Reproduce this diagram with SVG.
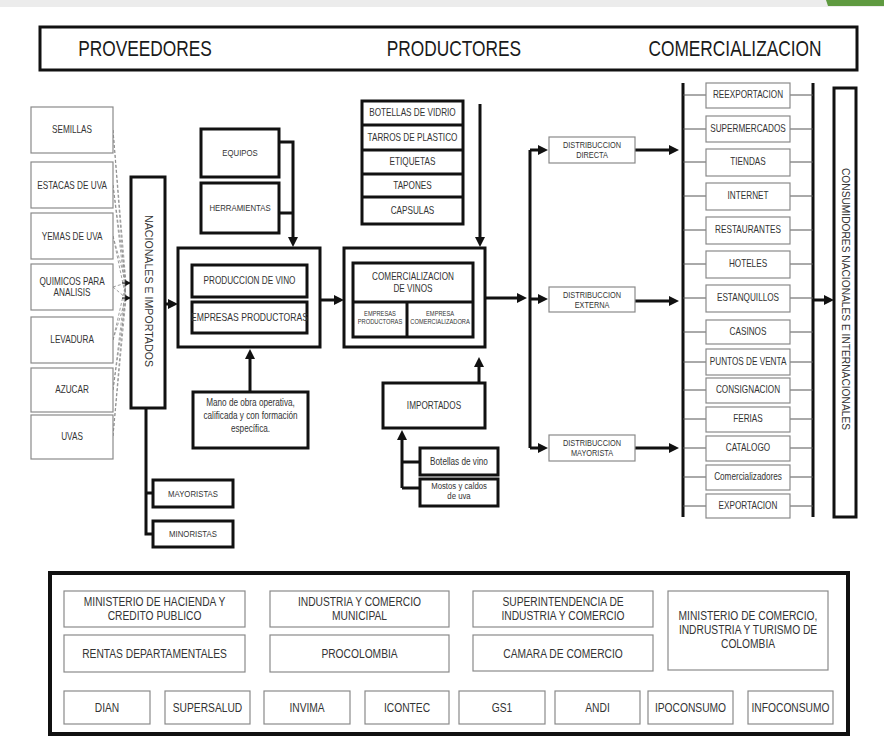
<svg xmlns="http://www.w3.org/2000/svg" width="884" height="740" viewBox="0 0 884 740">
  <defs>
    <style>
      .t, .tr { font-family: "Liberation Sans Narrow", "Liberation Sans", Arial, sans-serif; fill: #333; text-anchor: middle; }
      /* narrow the glyphs about each label's own centre */
      .t { transform: scaleX(0.82); transform-box: fill-box; transform-origin: center; }
      .h { font-size: 22.5px; fill: #1a1a1a; transform: scaleX(0.77); }
      .s10 { font-size: 10px; }
      .s9 { font-size: 9.5px; }
      .s8 { font-size: 9px; }
      .s6 { font-size: 7px; }
      .s12 { font-size: 12.5px; }
      .thick { fill: #fff; stroke: #111; stroke-width: 3; }
      .thin { fill: #fff; stroke: #8a8a8a; stroke-width: 1.2; }
      .wire { fill: none; stroke: #111; stroke-width: 3; }
      .fine { fill: none; stroke: #555; stroke-width: 1; }
      .dash { fill: none; stroke: #888; stroke-width: 0.8; stroke-dasharray: 3 2; }
    </style>
    <marker id="ah" viewBox="0 0 10 10" refX="3" refY="5" markerWidth="10" markerHeight="11" markerUnits="userSpaceOnUse" orient="auto">
      <path d="M0,0 L10,5 L0,10 z" fill="#111"/>
    </marker>
    <marker id="ahs" viewBox="0 0 10 10" refX="8" refY="5" markerWidth="6" markerHeight="6" markerUnits="userSpaceOnUse" orient="auto">
      <path d="M0,0 L10,5 L0,10 z" fill="#111"/>
    </marker>
  </defs>

  <!-- page backdrop -->
  <rect x="0" y="0" width="884" height="740" fill="#fff"/>
  <rect x="0" y="0" width="884" height="7" fill="#ececec"/>
  <path d="M826,0 L884,0 L884,6 L828,6 Z" fill="#5f9a40"/>

  <!-- header band -->
  <g id="header">
    <rect class="thick" x="40" y="27" width="817" height="43"/>
    <text class="t h" x="145" y="56.5">PROVEEDORES</text>
    <text class="t h" x="454" y="56.5">PRODUCTORES</text>
    <text class="t h" x="735" y="56.5">COMERCIALIZACION</text>
  </g>

  <!-- connectors -->
  <g id="connectors">
    <!-- suppliers fan into the national/imported column -->
    <path class="dash" d="M113,130 L126,283 M113,130 L126,298"/>
    <path class="dash" d="M113,185 L126,283 M113,185 L126,298"/>
    <path class="dash" d="M113,236 L126,283 M113,236 L126,298"/>
    <path class="dash" d="M113,287 L126,283 M113,287 L126,298"/>
    <path class="dash" d="M113,340 L126,283 M113,340 L126,298"/>
    <path class="dash" d="M113,390 L126,283 M113,390 L126,298"/>
    <path class="dash" d="M113,436 L126,283 M113,436 L126,298"/>
    <path d="M122,283 L130,283" fill="none" stroke="#111" stroke-width="1" marker-end="url(#ahs)"/>
    <path d="M122,298 L130,298" fill="none" stroke="#111" stroke-width="1" marker-end="url(#ahs)"/>

    <!-- national column -> production -->
    <path class="wire" d="M165,304 L171,304" marker-end="url(#ah)"/>
    <!-- national column -> wholesalers / retailers -->
    <path class="wire" d="M146,408 L146,534 L153,534 M146,493 L153,493"/>

    <!-- equipment & tools -> production -->
    <path class="wire" d="M279,142 L293,142 L293,240" marker-end="url(#ah)"/>
    <path class="wire" d="M279,213 L293,213"/>
    <!-- labour -> production -->
    <path class="wire" d="M250,392 L250,356" marker-end="url(#ah)"/>
    <!-- production -> commercialisation -->
    <path class="wire" d="M320,300 L337,300" marker-end="url(#ah)"/>
    <!-- packaging supplies -> commercialisation -->
    <path class="wire" d="M480,104 L480,240" marker-end="url(#ah)"/>
    <!-- imports -> commercialisation -->
    <path class="wire" d="M479,383 L479,364" marker-end="url(#ah)"/>
    <path class="wire" d="M402,488 L402,437" marker-end="url(#ah)"/>
    <path class="wire" d="M402,488 L420,488 M402,462 L420,462"/>

    <!-- commercialisation -> distribution bus -->
    <path class="wire" d="M485,298 L520,298" marker-end="url(#ah)"/>
    <path class="wire" d="M530,150 L530,448"/>
    <path class="wire" d="M530,150 L541,150" marker-end="url(#ah)"/>
    <path class="wire" d="M530,299 L541,299" marker-end="url(#ah)"/>
    <path class="wire" d="M530,448 L541,448" marker-end="url(#ah)"/>
    <!-- distribution -> channels -->
    <path class="wire" d="M635,150 L672,150" marker-end="url(#ah)"/>
    <path class="wire" d="M635,301 L672,301" marker-end="url(#ah)"/>
    <path class="wire" d="M635,448 L672,448" marker-end="url(#ah)"/>

    <!-- channel rails -->
    <path class="wire" d="M683,83 L683,517"/>
    <path class="wire" d="M813,83 L813,517"/>
    <path class="fine" d="M683,95 L706,95 M790,95 L813,95
      M683,129 L706,129 M790,129 L813,129
      M683,162 L706,162 M790,162 L813,162
      M683,196 L706,196 M790,196 L813,196
      M683,230 L706,230 M790,230 L813,230
      M683,264 L706,264 M790,264 L813,264
      M683,298 L706,298 M790,298 L813,298
      M683,332 L706,332 M790,332 L813,332
      M683,362 L706,362 M790,362 L813,362
      M683,390 L706,390 M790,390 L813,390
      M683,419 L706,419 M790,419 L813,419
      M683,448 L706,448 M790,448 L813,448
      M683,477 L706,477 M790,477 L813,477
      M683,506 L706,506 M790,506 L813,506"/>
    <!-- channels -> consumers -->
    <path class="wire" d="M813,300 L827,300" marker-end="url(#ah)"/>
  </g>

  <!-- suppliers -->
  <g id="semillas"><rect class="thin" x="31" y="107" width="82" height="46"/><text class="t s10" x="72" y="133.5">SEMILLAS</text></g>
  <g id="estacas"><rect class="thin" x="31" y="162" width="82" height="46"/><text class="t s10" x="72" y="189">ESTACAS DE UVA</text></g>
  <g id="yemas"><rect class="thin" x="31" y="213" width="82" height="46"/><text class="t s10" x="72" y="240">YEMAS DE UVA</text></g>
  <g id="quimicos"><rect class="thin" x="31" y="264" width="82" height="46"/><text class="t s10" x="72" y="285">QUIMICOS PARA</text><text class="t s10" x="72" y="296">ANALISIS</text></g>
  <g id="levadura"><rect class="thin" x="31" y="317" width="82" height="46"/><text class="t s10" x="72" y="343.5">LEVADURA</text></g>
  <g id="azucar"><rect class="thin" x="31" y="368" width="82" height="44"/><text class="t s10" x="72" y="393.5">AZUCAR</text></g>
  <g id="uvas"><rect class="thin" x="31" y="415" width="82" height="44"/><text class="t s10" x="72" y="440.5">UVAS</text></g>

  <g id="nacionales">
    <rect class="thick" x="131" y="177" width="34" height="231"/>
    <text class="tr s10" transform="translate(145,291) rotate(90)" textLength="152" lengthAdjust="spacingAndGlyphs">NACIONALES  E  IMPORTADOS</text>
  </g>
  <g id="mayoristas"><rect class="thick" x="153" y="480" width="80" height="27"/><text class="t s9" x="193" y="497">MAYORISTAS</text></g>
  <g id="minoristas"><rect class="thick" x="153" y="521" width="80" height="26"/><text class="t s9" x="193" y="537.5">MINORISTAS</text></g>

  <!-- production -->
  <g id="equipos"><rect class="thick" x="201" y="129" width="78" height="48"/><text class="t s9" x="240" y="156">EQUIPOS</text></g>
  <g id="herramientas"><rect class="thick" x="201" y="183" width="78" height="50"/><text class="t s9" x="240" y="211">HERRAMIENTAS</text></g>
  <g id="produccion">
    <rect class="thick" x="178" y="248" width="142" height="99"/>
    <rect class="thick" x="192" y="265" width="115" height="32"/>
    <text class="t s10" x="249.5" y="284.5">PRODUCCION DE VINO</text>
    <rect class="thick" x="192" y="302" width="115" height="31"/>
    <text class="t" style="font-size:10.5px" x="249.5" y="321.5">EMPRESAS PRODUCTORAS</text>
  </g>
  <g id="mano-de-obra">
    <rect class="thick" x="193" y="392" width="115" height="56"/>
    <text class="t s10" x="250.5" y="406">Mano de obra operativa,</text>
    <text class="t s10" x="250.5" y="419">calificada y con formación</text>
    <text class="t s10" x="250.5" y="432">específica.</text>
  </g>

  <!-- packaging supplies -->
  <g id="empaques">
    <rect class="thick" x="362" y="101" width="101" height="123"/>
    <path class="wire" d="M362,125 L463,125 M362,150 L463,150 M362,174 L463,174 M362,197 L463,197"/>
    <text class="t s10" x="412.5" y="116.5">BOTELLAS DE VIDRIO</text>
    <text class="t s10" x="412.5" y="141">TARROS DE PLASTICO</text>
    <text class="t s10" x="412.5" y="165.5">ETIQUETAS</text>
    <text class="t s10" x="412.5" y="189">TAPONES</text>
    <text class="t s10" x="412.5" y="214">CAPSULAS</text>
  </g>

  <g id="comercializacion">
    <rect class="thick" x="344" y="248" width="141" height="99"/>
    <rect class="thick" x="353" y="263" width="120" height="74"/>
    <path class="wire" d="M353,302 L473,302 M407,302 L407,337"/>
    <text class="t s10" x="413" y="280">COMERCIALIZACION</text>
    <text class="t s10" x="413" y="292">DE VINOS</text>
    <text class="t s6" x="380" y="316">EMPRESAS</text>
    <text class="t s6" x="380" y="324">PRODUCTORAS</text>
    <text class="t s6" x="440" y="316">EMPRESA</text>
    <text class="t s6" x="440" y="324">COMERCIALIZADORA</text>
  </g>

  <g id="importados"><rect class="thick" x="383" y="383" width="102" height="45"/><text class="t s10" x="434" y="409">IMPORTADOS</text></g>
  <g id="botellas-vino"><rect class="thick" x="420" y="448" width="78" height="27"/><text class="t s10" x="459" y="465">Botellas de vino</text></g>
  <g id="mostos"><rect class="thick" x="420" y="479" width="78" height="27"/><text class="t s9" x="459" y="489">Mostos y caldos</text><text class="t s9" x="459" y="499">de uva</text></g>

  <!-- distribution -->
  <g id="dist-directa"><rect class="thin" x="549" y="137" width="86" height="26"/><text class="t s8" x="592" y="148">DISTRIBUCCION</text><text class="t s8" x="592" y="158">DIRECTA</text></g>
  <g id="dist-externa"><rect class="thin" x="549" y="287" width="86" height="25"/><text class="t s8" x="592" y="298">DISTRIBUCCION</text><text class="t s8" x="592" y="308">EXTERNA</text></g>
  <g id="dist-mayorista"><rect class="thin" x="549" y="435" width="86" height="26"/><text class="t s8" x="592" y="446">DISTRIBUCCION</text><text class="t s8" x="592" y="456">MAYORISTA</text></g>

  <!-- sales channels -->
  <g id="reexportacion"><rect class="thin" x="706" y="83" width="84" height="25"/><text class="t s10" x="748" y="98.5">REEXPORTACION</text></g>
  <g id="supermercados"><rect class="thin" x="706" y="116" width="84" height="26"/><text class="t s10" x="748" y="132.5">SUPERMERCADOS</text></g>
  <g id="tiendas"><rect class="thin" x="706" y="149" width="84" height="27"/><text class="t s10" x="748" y="165.5">TIENDAS</text></g>
  <g id="internet"><rect class="thin" x="706" y="183" width="84" height="27"/><text class="t s10" x="748" y="199.5">INTERNET</text></g>
  <g id="restaurantes"><rect class="thin" x="706" y="217" width="84" height="27"/><text class="t s10" x="748" y="233.5">RESTAURANTES</text></g>
  <g id="hoteles"><rect class="thin" x="706" y="251" width="84" height="27"/><text class="t s10" x="748" y="267.5">HOTELES</text></g>
  <g id="estanquillos"><rect class="thin" x="706" y="285" width="84" height="27"/><text class="t s10" x="748" y="301.5">ESTANQUILLOS</text></g>
  <g id="casinos"><rect class="thin" x="706" y="320" width="84" height="24"/><text class="t s10" x="748" y="335.5">CASINOS</text></g>
  <g id="puntos-venta"><rect class="thin" x="706" y="349" width="84" height="26"/><text class="t s10" x="748" y="365.5">PUNTOS DE VENTA</text></g>
  <g id="consignacion"><rect class="thin" x="706" y="378" width="84" height="25"/><text class="t s10" x="748" y="393.5">CONSIGNACION</text></g>
  <g id="ferias"><rect class="thin" x="706" y="407" width="84" height="25"/><text class="t s10" x="748" y="422.5">FERIAS</text></g>
  <g id="catalogo"><rect class="thin" x="706" y="436" width="84" height="25"/><text class="t s10" x="748" y="451.5">CATALOGO</text></g>
  <g id="comercializadores"><rect class="thin" x="706" y="465" width="84" height="25"/><text class="t s10" x="748" y="480.5">Comercializadores</text></g>
  <g id="exportacion"><rect class="thin" x="706" y="494" width="84" height="24"/><text class="t s10" x="748" y="509.5">EXPORTACION</text></g>

  <g id="consumidores">
    <rect class="thick" x="834" y="88" width="22" height="429"/>
    <text class="tr s10" transform="translate(842,299) rotate(90)" textLength="262" lengthAdjust="spacingAndGlyphs">CONSUMIDORES NACIONALES E INTERNACIONALES</text>
  </g>

  <!-- regulatory bodies -->
  <g id="entidades">
    <rect x="50" y="573" width="798" height="161" fill="#fff" stroke="#111" stroke-width="4"/>
  </g>
  <g id="minhacienda"><rect class="thin" x="64" y="591" width="181" height="36"/><text class="t s12" x="154.5" y="606">MINISTERIO DE HACIENDA Y</text><text class="t s12" x="154.5" y="620">CREDITO PUBLICO</text></g>
  <g id="industria-municipal"><rect class="thin" x="270" y="591" width="179" height="36"/><text class="t s12" x="359.5" y="606">INDUSTRIA Y COMERCIO</text><text class="t s12" x="359.5" y="620">MUNICIPAL</text></g>
  <g id="superintendencia"><rect class="thin" x="473" y="591" width="180" height="36"/><text class="t s12" x="563" y="606">SUPERINTENDENCIA DE</text><text class="t s12" x="563" y="620">INDUSTRIA Y COMERCIO</text></g>
  <g id="mincomercio"><rect class="thin" x="668" y="591" width="160" height="79"/><text class="t s12" x="748" y="620">MINISTERIO DE COMERCIO,</text><text class="t s12" x="748" y="634">INDRUSTRIA Y TURISMO DE</text><text class="t s12" x="748" y="648">COLOMBIA</text></g>
  <g id="rentas"><rect class="thin" x="64" y="635" width="181" height="37"/><text class="t s12" x="154.5" y="658">RENTAS DEPARTAMENTALES</text></g>
  <g id="procolombia"><rect class="thin" x="270" y="635" width="179" height="37"/><text class="t s12" x="359.5" y="658">PROCOLOMBIA</text></g>
  <g id="camara"><rect class="thin" x="473" y="635" width="180" height="36"/><text class="t s12" x="563" y="658">CAMARA DE COMERCIO</text></g>
  <g id="dian"><rect class="thin" x="64" y="691" width="86" height="33"/><text class="t s12" x="107" y="712">DIAN</text></g>
  <g id="supersalud"><rect class="thin" x="165" y="691" width="85" height="33"/><text class="t s12" x="207.5" y="712">SUPERSALUD</text></g>
  <g id="invima"><rect class="thin" x="264" y="691" width="86" height="33"/><text class="t s12" x="307" y="712">INVIMA</text></g>
  <g id="icontec"><rect class="thin" x="365" y="691" width="84" height="33"/><text class="t s12" x="407" y="712">ICONTEC</text></g>
  <g id="gs1"><rect class="thin" x="459" y="691" width="86" height="33"/><text class="t s12" x="502" y="712">GS1</text></g>
  <g id="andi"><rect class="thin" x="555" y="691" width="85" height="33"/><text class="t s12" x="597.5" y="712">ANDI</text></g>
  <g id="ipoconsumo"><rect class="thin" x="648" y="691" width="85" height="33"/><text class="t s12" x="690.5" y="712">IPOCONSUMO</text></g>
  <g id="infoconsumo"><rect class="thin" x="748" y="691" width="85" height="33"/><text class="t s12" x="790.5" y="712">INFOCONSUMO</text></g>
</svg>
